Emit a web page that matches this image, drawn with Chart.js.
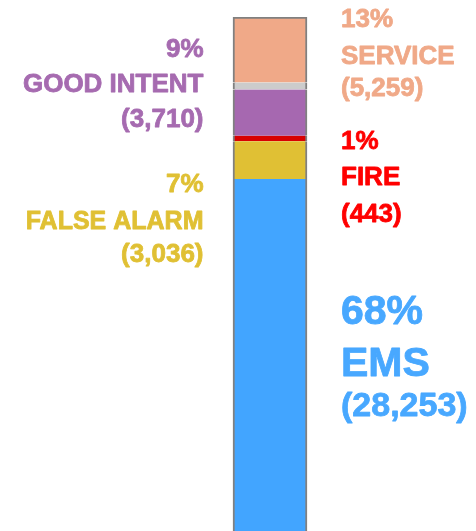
<!DOCTYPE html>
<html>
<head>
<meta charset="utf-8">
<script src="https://cdn.jsdelivr.net/npm/chart.js@4/dist/chart.umd.min.js"></script>
<style>
  html, body { margin: 0; padding: 0; background: #fff; }
  #wrap { width: 476px; height: 531px; }
</style>
</head>
<body>
<div id="wrap"><canvas id="callChart" width="476" height="531"></canvas></div>
<script>
// categories, bottom of the bar first
const categories = ['EMS', 'FALSE ALARM', 'FIRE', 'GOOD INTENT', 'OTHER', 'SERVICE'];
const counts = [28253, 3036, 443, 3710, 560, 5259];
const barColors = ['#42A5FF', '#E0C034', '#D80000', '#A668B0', '#CCCCCC', '#F0A988'];
const textColors = ['#48A8FF', '#E0C034', '#FF0000', '#A66BB0', null, '#F0A988'];

const total = counts.reduce((a, b) => a + b, 0);

// where each label block sits (side of the bar, baselines, font sizes)
const labelLayout = {
    'EMS':         { side: 'right', y: [324, 376, 416], size: [41, 41, 34] },
    'FALSE ALARM': { side: 'left',  y: [192, 228.5, 262], size: [26, 25, 26] },
    'FIRE':        { side: 'right', y: [149, 185, 222], size: [26, 26, 26] },
    'GOOD INTENT': { side: 'left',  y: [57, 92, 127], size: [26, 26, 26] },
    'SERVICE':     { side: 'right', y: [27, 63.5, 96], size: [26, 26, 26] },
};

let datasets = [];
for (let i = 0; i < categories.length; i++) {
    let isTop = i === categories.length - 1;
    datasets.push({
        label: categories[i],
        data: [counts[i]],
        backgroundColor: barColors[i],
        borderColor: '#808080',
        borderWidth: { left: 2, right: 2, top: isTop ? 2 : 0, bottom: 0 },
        borderSkipped: false,
        barThickness: 74,
        stack: 'calls',
    });
}

// text next to the bar: percent, name, (count)
const sideLabels = {
    id: 'sideLabels',
    afterDatasetsDraw(chart) {
        const ctx = chart.ctx;
        const bar = chart.getDatasetMeta(0).data[0];
        const leftX = bar.x - 66.5;
        const rightX = bar.x + 71;
        ctx.save();
        categories.forEach((name, i) => {
            const lay = labelLayout[name];
            if (!lay) return;
            const pct = Math.round(counts[i] / total * 100) + '%';
            const lines = [pct, name, '(' + counts[i].toLocaleString('en-US') + ')'];
            ctx.fillStyle = textColors[i];
            ctx.strokeStyle = textColors[i];
            ctx.lineWidth = 0.8;
            ctx.lineJoin = 'round';
            ctx.textAlign = lay.side === 'left' ? 'right' : 'left';
            ctx.textBaseline = 'alphabetic';
            lines.forEach((t, k) => {
                const x = lay.side === 'left' ? leftX : rightX;
                ctx.font = 'bold ' + lay.size[k] + 'px "Liberation Sans", Arial, sans-serif';
                ctx.fillText(t, x, lay.y[k]);
                ctx.strokeText(t, x, lay.y[k]);
            });
        });
        ctx.restore();
    }
};

new Chart(document.getElementById('callChart'), {
    type: 'bar',
    data: { labels: ['Calls'], datasets: datasets },
    options: {
        responsive: false,
        animation: false,
        layout: { padding: { top: 17, bottom: 0, left: 64, right: 0 } },
        plugins: {
            legend: { display: false },
            tooltip: { enabled: false },
        },
        scales: {
            x: { stacked: true, display: false },
            y: { stacked: true, display: false, min: 0, max: total },
        },
    },
    plugins: [sideLabels],
});
</script>
</body>
</html>
